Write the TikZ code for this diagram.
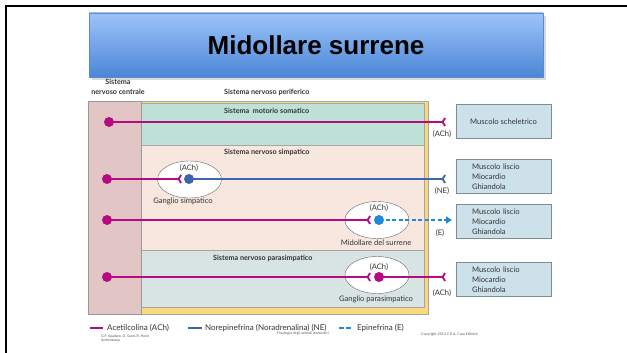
\documentclass[tikz,border=0pt]{standalone}
\usepackage{fontspec}
\setmainfont{Lato}
\newfontfamily\titlefont{Liberation Sans}
\usetikzlibrary{arrows.meta,shadows,shapes.geometric}
\definecolor{achc}{HTML}{B80A80}
\definecolor{nec}{HTML}{3E63AF}
\definecolor{epic}{HTML}{1C8AD6}
\definecolor{organfill}{HTML}{CDE1EB}
\definecolor{organline}{HTML}{7E8C94}
\definecolor{cnsfill}{HTML}{E2C6C6}
\definecolor{pnsfill}{HTML}{F9D97B}
\definecolor{somfill}{HTML}{BEE1D8}
\definecolor{simpfill}{HTML}{F8E7DF}
\definecolor{parafill}{HTML}{D8E3E4}
\definecolor{titletop}{HTML}{9DC4F9}
\definecolor{titlebot}{HTML}{4A86D6}
\definecolor{titleline}{HTML}{5C8ACB}
\definecolor{txt}{HTML}{333333}
\tikzset{
  lbl/.style={font=\fontsize{7.6}{10}\selectfont, text=txt, inner sep=0pt},
  hdr/.style={font=\fontsize{7.2}{9.5}\selectfont\bfseries, text=txt, inner sep=0pt},
  organ/.style={draw=organline, fill=organfill, minimum width=95pt, minimum height=34pt,
    font=\fontsize{7.6}{10}\selectfont, text=txt, inner sep=0pt},
  ganglio/.style={ellipse, draw=gray!80!black, fill=white, minimum width=64pt, minimum height=37pt},
  dot/.style={circle, inner sep=0pt, minimum size=10pt},
  fibra/.style={line width=1.8pt},
  recettore/.style={-{Straight Barb[reversed,length=2.5pt,width=8pt]}},
  piede/.style={font=\fontsize{3.6}{4.6}\selectfont, text=gray!70!black, inner sep=0pt, anchor=west},
}
\begin{document}
\begin{tikzpicture}[x=1pt,y=-1pt]
\useasboundingbox (0,0) rectangle (627,353);
\draw[line width=2pt] (6,353) -- (6,6) -- (627,6);

\node[draw=titleline, top color=titletop, bottom color=titlebot,
  minimum width=454pt, minimum height=64pt, drop shadow={opacity=0.3}, inner sep=0pt,
  font=\titlefont\fontsize{26}{28}\selectfont\bfseries] (titolo) at (316,45) {Midollare surrene};

\node[hdr, align=center] (snc) at (118,87) {Sistema\\nervoso centrale};
\node[hdr, anchor=west] (snp) at (224,92) {Sistema nervoso periferico};

\filldraw[fill=pnsfill, draw=gray!70] (141,101) rectangle (428,314);
\filldraw[fill=somfill, draw=gray!70] (141,103) rectangle (424,145);
\filldraw[fill=simpfill, draw=gray!70] (141,145) rectangle (424,250);
\filldraw[fill=parafill, draw=gray!70] (141,250) rectangle (424,307);
\filldraw[fill=cnsfill, draw=gray!80] (88,101) rectangle (141,314);

\node[hdr, anchor=west] (som) at (224,111) {Sistema\ \ motorio somatico};
\node[hdr, anchor=west] (simp) at (224,152) {Sistema nervoso simpatico};
\node[hdr, anchor=west] (para) at (213,258) {Sistema nervoso parasimpatico};

\node[organ] (scheletrico) at (503.5,121.5) {Muscolo scheletrico};
\node[organ, text width=63pt, align=left] (organo1) at (503.5,176.5) {Muscolo liscio\\Miocardio\\Ghiandola};
\node[organ, text width=63pt, align=left] (organo2) at (503.5,221.5) {Muscolo liscio\\Miocardio\\Ghiandola};
\node[organ, text width=63pt, align=left] (organo3) at (503.5,279.5) {Muscolo liscio\\Miocardio\\Ghiandola};

% gangli
\node[ganglio] (gsimp) at (189.5,179.5) {};
\node[ganglio] (gsurr) at (377,220) {};
\node[ganglio] (gpara) at (377,275) {};
\node[lbl] (gsimplbl) at (183,201) {Ganglio simpatico};
\node[lbl] (gsurrlbl) at (376,243) {Midollare del surrene};
\node[lbl] (gparalbl) at (376,299) {Ganglio parasimpatico};

% somatico
\node[dot, fill=achc] (c1) at (109,122) {};
\coordinate (r1) at (446,122);
\draw[fibra, achc, recettore] (c1.center) -- (r1);
\node[lbl] (t1) at (442,134) {(ACh)};

% simpatico
\node[dot, fill=achc] (c2) at (107,179) {};
\node[dot, fill=nec] (n2) at (189,179) {};
\draw[fibra, achc, recettore] (c2.center) -- ([xshift=-7pt]n2.center);
\draw[fibra, nec, recettore] (n2.center) -- (446,179) coordinate (r2);
\node[lbl] (a2) at (189,168) {(ACh)};
\node[lbl] (t2) at (442,191) {(NE)};

% surrene
\node[dot, fill=achc] (c3) at (107,220) {};
\node[dot, fill=epic] (n3) at (379,220) {};
\coordinate (r3) at (452,220);
\draw[fibra, achc, recettore] (c3.center) -- ([xshift=-8pt]n3.center);
\draw[line width=1.5pt, epic, dash pattern=on 4pt off 2.5pt, -{Triangle[length=6pt,width=7pt]}] (n3.center) -- (r3);
\node[lbl] (a3) at (379,208) {(ACh)};
\node[lbl] (t3) at (440,233) {(E)};

% parasimpatico
\node[dot, fill=achc] (c4) at (107,277) {};
\node[dot, fill=achc] (n4) at (379,277) {};
\coordinate (r4) at (446,277);
\draw[fibra, achc, recettore] (c4.center) -- ([xshift=-8pt]n4.center);
\draw[fibra, achc, recettore] (n4.center) -- (r4);
\node[lbl] (a4) at (379,267) {(ACh)};
\node[lbl] (t4) at (442,293) {(ACh)};

% legenda
\node[lbl, anchor=west, font=\fontsize{8}{9}\selectfont] (lach) at (107,328) {Acetilcolina (ACh)};
\node[lbl, anchor=west, font=\fontsize{8}{9}\selectfont] (lne) at (205,328) {Norepinefrina (Noradrenalina) (NE)};
\node[lbl, anchor=west, font=\fontsize{8}{9}\selectfont] (lepi) at (357,328) {Epinefrina (E)};
\draw[fibra, achc] ([xshift=-17pt]lach.west) -- ([xshift=-4pt]lach.west);
\draw[fibra, nec] ([xshift=-17pt]lne.west) -- ([xshift=-3pt]lne.west);
\draw[line width=1.5pt, epic, dash pattern=on 5pt off 2pt] ([xshift=-18pt]lepi.west) -- ([xshift=-4pt]lepi.west);

\node[piede, align=left] (autori) at (101,338) {G.F. Spadaro, D. Sand, R. Hovè\\Ambrosiana};
\node[piede] (libro) at (277,334) {Fisiologia degli animali domestici};
\node[piede] (copy) at (421,335) {Copyright 2013 C.E.A. Casa Editrice};
\end{tikzpicture}
\end{document}
